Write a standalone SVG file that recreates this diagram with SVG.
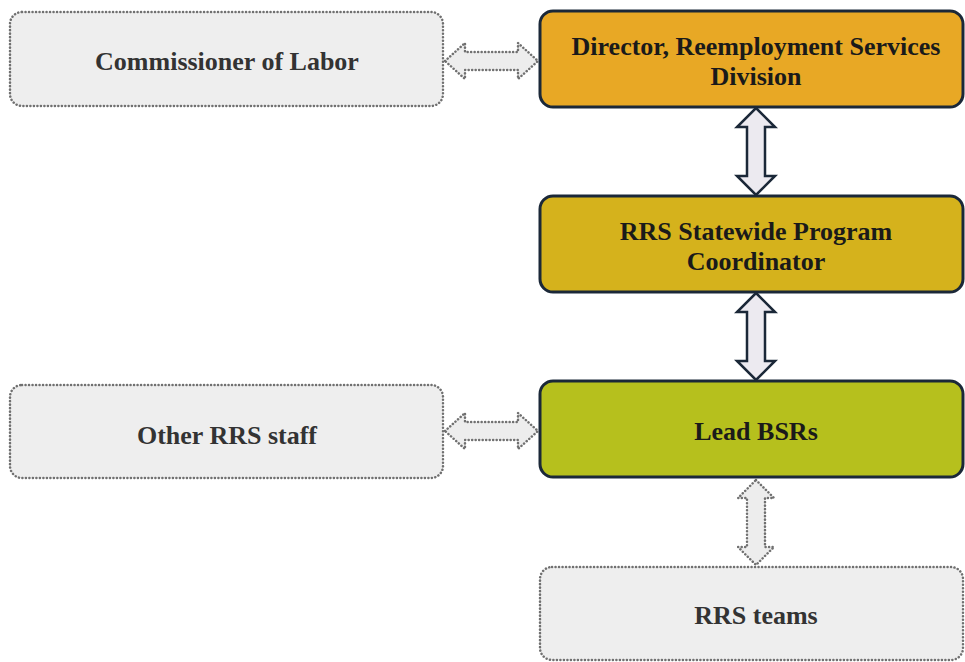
<svg xmlns="http://www.w3.org/2000/svg" width="965" height="662" viewBox="0 0 965 662">
<style>
.lbl{font-family:"Liberation Serif","Times New Roman",serif;font-weight:bold;font-size:26px;text-anchor:middle;fill:#1a1a1a}
.glbl{fill:#333}
.solid{stroke:#1b2838;stroke-width:3}
.ghost{fill:#eeeeee;stroke:#707070;stroke-width:2.5;stroke-dasharray:0.1 3.4;stroke-linecap:round}
.arr{fill:#eceaf0;stroke:#1b2838;stroke-width:2.5;stroke-linejoin:miter}
.darr{fill:#ededed;stroke:#707070;stroke-width:2.5;stroke-dasharray:0.1 3.4;stroke-linecap:round}
</style>
<rect width="965" height="662" fill="#ffffff"/>
<g id="connectors">
<path class="darr" d="M445,61 L465,43 L465,52 L518,52 L518,43 L538,61 L518,79 L518,70 L465,70 L465,79 Z"/>
<path class="arr" d="M756,108 L775,127 L765,127 L765,176 L775,176 L756,195 L737,176 L747,176 L747,127 L737,127 Z"/>
<path class="arr" d="M756,293 L775,312 L765,312 L765,361 L775,361 L756,380 L737,361 L747,361 L747,312 L737,312 Z"/>
<path class="darr" d="M445,431 L465,413 L465,422 L518,422 L518,413 L538,431 L518,449 L518,440 L465,440 L465,449 Z"/>
<path class="darr" d="M756,480 L774,498 L765,498 L765,547 L774,547 L756,565 L738,547 L747,547 L747,498 L738,498 Z"/>
</g>
<g id="commissioner">
<rect class="ghost" x="10" y="12" width="433" height="94" rx="12"/>
<text class="lbl glbl" x="227" y="70">Commissioner of Labor</text>
</g>
<g id="director">
<rect class="solid" x="540" y="11" width="423" height="96" rx="13" fill="#e8a825"/>
<text class="lbl" x="756" y="55">Director, Reemployment Services</text>
<text class="lbl" x="756" y="85">Division</text>
</g>
<g id="coordinator">
<rect class="solid" x="540" y="196" width="423" height="96" rx="13" fill="#d5b21c"/>
<text class="lbl" x="756" y="240">RRS Statewide Program</text>
<text class="lbl" x="756" y="270">Coordinator</text>
</g>
<g id="lead">
<rect class="solid" x="540" y="381" width="423" height="96" rx="13" fill="#b6c01d"/>
<text class="lbl" x="756" y="440">Lead BSRs</text>
</g>
<g id="other">
<rect class="ghost" x="10" y="385" width="433" height="93" rx="12"/>
<text class="lbl glbl" x="227" y="444">Other RRS staff</text>
</g>
<g id="teams">
<rect class="ghost" x="540" y="567" width="423" height="93" rx="12"/>
<text class="lbl glbl" x="756" y="624">RRS teams</text>
</g>
</svg>
